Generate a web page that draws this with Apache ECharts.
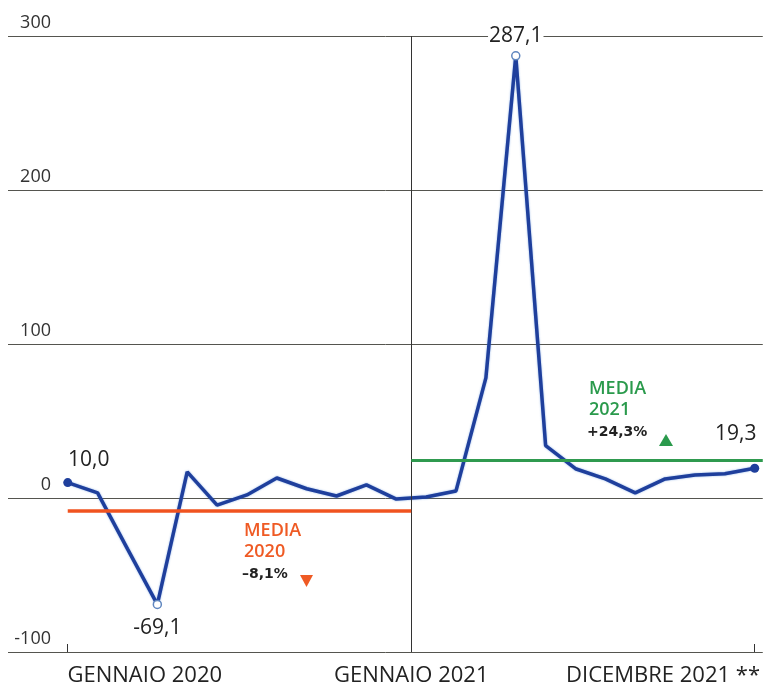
<!DOCTYPE html>
<html><head><meta charset="utf-8">
<script src="https://cdn.jsdelivr.net/npm/echarts@6/dist/echarts.min.js"></script>
<style>html,body{margin:0;padding:0;background:#fff}#c{width:763px;height:687px}</style>
</head><body><div id="c"></div>
<script>
// months Jan 2020 .. Dec 2021
const months = ['01/2020','02/2020','03/2020','04/2020','05/2020','06/2020','07/2020','08/2020','09/2020','10/2020','11/2020','12/2020',
                '01/2021','02/2021','03/2021','04/2021','05/2021','06/2021','07/2021','08/2021','09/2021','10/2021','11/2021','12/2021'];
const values = [10.0, 3.3, -33, -69.1, 17, -4.6, 2, 13, 6, 1.3, 8.5, -0.7,
                0.7, 4.6, 78, 287.1, 34, 19, 12.4, 3.3, 12.4, 15, 15.7, 19.3];
const yTicks = [-100, 0, 100, 200, 300];
const xTickLabels = ['GENNAIO 2020', 'GENNAIO 2021', 'DICEMBRE 2021 **'];
const xTickPos = [2.58, 11.5, 19.93];
const media2020 = -8.1;
const media2021 = 24.3;
const labeledIdx = [0, 3, 15, 23];

const fmt = v => v.toFixed(1).replace('.', ',');
const labelStyle = {
  0:  {position:'top', distance:8, offset:[21,0]},
  3:  {position:'bottom', distance:8},
  15: {position:'top', distance:5, backgroundColor:'#fff', padding:[0,1]},
  23: {position:'top', distance:19, offset:[-19,0]}
};
const symStyle = {
  0:  {color:'#1f3f9c', borderWidth:0, size:9},
  3:  {color:'#fff', borderColor:'#5f86bf', borderWidth:1.5, size:8},
  15: {color:'#fff', borderColor:'#5f86bf', borderWidth:1.5, size:8},
  23: {color:'#1f3f9c', borderWidth:0, size:9}
};

const seriesData = values.map((v, i) => {
  const item = {value:[i, v], name: months[i], symbol:'none'};
  if (labeledIdx.includes(i)) {
    const s = symStyle[i];
    item.symbol = 'circle';
    item.symbolSize = s.size;
    item.itemStyle = {color:s.color, borderColor:s.borderColor || s.color, borderWidth:s.borderWidth};
    item.label = Object.assign({show:true, formatter: fmt(v), color:'#222',
      fontFamily:'Open Sans', fontSize:21}, labelStyle[i]);
  }
  return item;
});

const chart = echarts.init(document.getElementById('c'), null, {renderer:'canvas'});
chart.setOption({
  animation:false,
  backgroundColor:'#fff',
  grid:{left:8, right:0, top:36, bottom:35},
  xAxis:{
    type:'value', min:-2, max:23.27,
    splitLine:{show:false},
    axisLine:{show:false, onZero:false},
    axisTick:{show:true, inside:true, length:8, customValues:[0, 23], lineStyle:{color:'#333', width:1}},
    axisLabel:{show:true, customValues:xTickPos, margin:13, color:'#222', fontFamily:'Open Sans', fontSize:22,
      formatter:(v) => { const k = xTickPos.findIndex(p => Math.abs(p - v) < 1e-6); return k >= 0 ? xTickLabels[k] : ''; }}
  },
  yAxis:{
    type:'value', min:yTicks[0], max:yTicks[yTicks.length-1], interval:100,
    axisLine:{show:false}, axisTick:{show:false},
    splitLine:{show:true, lineStyle:{color:'#55554f', width:1}},
    axisLabel:{inside:true, align:'right', verticalAlign:'bottom', margin:43, padding:[0,0,4,0],
      color:'#333', fontFamily:'Open Sans', fontSize:18}
  },
  series:[
    {
      type:'line', data:[], z:1, silent:true,
      markLine:{
        silent:true, symbol:'none', animation:false, label:{show:false},
        data:[
          {xAxis:11.5, lineStyle:{color:'#333', width:1, type:'solid'}},
          [{coord:[0, media2020], lineStyle:{color:'#f0531f', width:3.5, type:'solid'}}, {coord:[11.5, media2020]}],
          [{coord:[11.5, media2021], lineStyle:{color:'#2f9a4f', width:3, type:'solid'}}, {coord:[23.27, media2021]}]
        ]
      }
    },
    {
      type:'line', z:3, data:seriesData, symbol:'none',
      lineStyle:{color:'#1f3f9c', width:3.5, shadowColor:'rgba(60,120,210,0.6)', shadowBlur:2},
      itemStyle:{color:'#1f3f9c'},
      label:{show:false}
    }
  ],
  graphic:[
    {type:'text', left:244, top:520, style:{text:'MEDIA\n2020', fill:'#ef5a24', font:'600 18px "Open Sans"', lineHeight:21}},
    {type:'text', left:242, top:567, style:{text:'–8,1%', fill:'#222', font:'700 14px "DejaVu Sans"'}},
    {type:'polygon', shape:{points:[[300,575],[313,575],[306.5,587]]}, style:{fill:'#ef5a24'}},
    {type:'text', left:589, top:378, style:{text:'MEDIA\n2021', fill:'#2a9a4c', font:'600 18px "Open Sans"', lineHeight:21}},
    {type:'text', left:587, top:425, style:{text:'+24,3%', fill:'#222', font:'700 14px "DejaVu Sans"'}},
    {type:'polygon', shape:{points:[[659,446],[673,446],[666,434]]}, style:{fill:'#2a9a4c'}}
  ]
});
</script></body></html>
